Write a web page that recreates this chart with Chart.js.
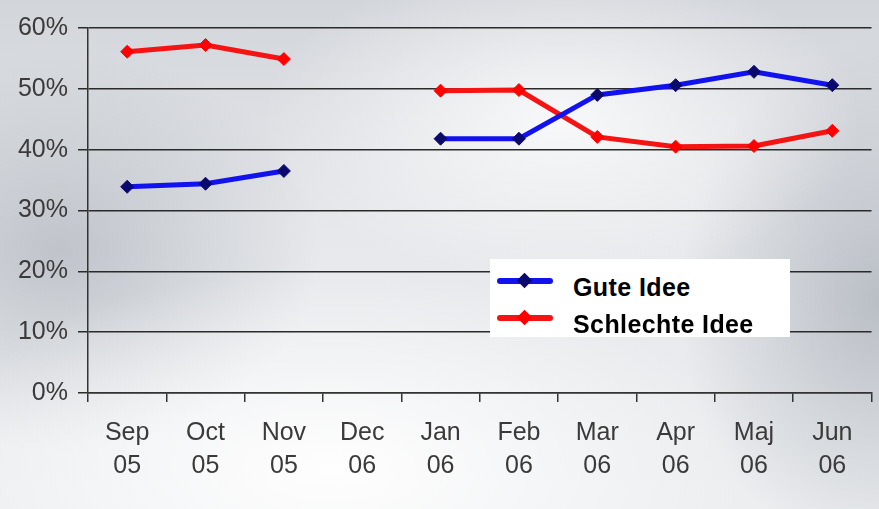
<!DOCTYPE html>
<html>
<head>
<meta charset="utf-8">
<script src="https://cdn.jsdelivr.net/npm/chart.js@4"></script>
<style>
    html, body { margin: 0; padding: 0; }
    body { width: 879px; height: 509px; overflow: hidden; }
    #wrap {
        position: relative;
        width: 879px;
        height: 509px;
        background:
            radial-gradient(ellipse 420px 200px at 330px 470px, rgba(255,255,255,0.95), rgba(255,255,255,0) 100%),
            radial-gradient(ellipse 300px 160px at 560px 120px, rgba(255,255,255,0.8), rgba(255,255,255,0) 100%),
            radial-gradient(ellipse 260px 200px at 60px 250px, rgba(175,180,188,0.7), rgba(175,180,188,0) 100%),
            radial-gradient(ellipse 200px 260px at 879px 300px, rgba(170,175,184,0.75), rgba(170,175,184,0) 100%),
            linear-gradient(180deg, #d2d5da 0%, #e6e8eb 45%, #eceef0 100%);
    }
    #legend {
        position: absolute;
        left: 490px;
        top: 259px;
        width: 300px;
        height: 78px;
        background: #ffffff;
        font-family: "Liberation Sans", Arial, sans-serif;
        font-weight: bold;
        font-size: 25px;
        letter-spacing: 0.4px;
        color: #000;
    }
    .item { position: absolute; left: 7px; height: 30px; display: flex; align-items: center; }
    .item span { position: relative; top: 6px; }
    .swatch { position: relative; width: 56px; height: 30px; margin-right: 20px; }
    .swatch .ln { position: absolute; left: 0; top: 12px; width: 56px; height: 6px; border-radius: 3px; }
    .swatch .dm { position: absolute; left: 22px; top: 9px; width: 11px; height: 11px; transform: rotate(45deg); }
</style>
</head>
<body>
<div id="wrap">
    <canvas id="myChart" width="879" height="509"></canvas>
    <div id="legend"></div>
</div>
<script>
// categories (two-line tick labels)
const months = ['Sep', 'Oct', 'Nov', 'Dec', 'Jan', 'Feb', 'Mar', 'Apr', 'Maj', 'Jun'];
const years = ['05', '05', '05', '06', '06', '06', '06', '06', '06', '06'];

// series values in percent, Dec 06 has no value
const guteIdee = [33.9, 34.4, 36.5, null, 41.8, 41.8, 49.0, 50.6, 52.8, 50.6];
const schlechteIdee = [56.1, 57.2, 54.9, null, 49.7, 49.8, 42.1, 40.5, 40.6, 43.1];

const seriesNames = ['Gute Idee', 'Schlechte Idee'];
const yTicks = [0, 10, 20, 30, 40, 50, 60];

const labels = months.map((m, i) => [m, years[i]]);
const font = "'Liberation Sans', Arial, sans-serif";

const datasets = [
    {
        label: seriesNames[0],
        data: guteIdee,
        borderColor: '#1212ee',
        backgroundColor: '#0a0a6e',
        pointBackgroundColor: '#0a0a6e',
        pointBorderColor: '#0a0a6e',
        borderWidth: 5,
        pointStyle: 'rectRot',
        pointRadius: 6.5,
        pointBorderWidth: 1,
        spanGaps: false,
        tension: 0
    },
    {
        label: seriesNames[1],
        data: schlechteIdee,
        borderColor: '#f41414',
        backgroundColor: '#ff0000',
        pointBackgroundColor: '#ff0000',
        pointBorderColor: '#ff0000',
        borderWidth: 5,
        pointStyle: 'rectRot',
        pointRadius: 6.5,
        pointBorderWidth: 1,
        spanGaps: false,
        tension: 0
    }
];

const chartInstance = new Chart(document.getElementById('myChart').getContext('2d'), {
    type: 'line',
    data: { labels, datasets },
    options: {
        responsive: false,
        animation: false,
        layout: { padding: { top: 28, right: 0, left: 0, bottom: 0 } },
        plugins: { legend: { display: false }, tooltip: { enabled: false } },
        scales: {
            x: {
                offset: true,
                grid: { offset: true, drawOnChartArea: false, drawTicks: true, tickLength: 9, color: '#333', lineWidth: 1.5 },
                border: { display: true, color: '#333', width: 1.5 },
                ticks: {
                    color: '#3a3a3a',
                    font: { family: font, size: 25, lineHeight: 1.3 },
                    padding: 15,
                    maxRotation: 0,
                    autoSkip: false
                },
                afterFit: s => { s.height = 116; }
            },
            y: {
                min: 0,
                max: 60,
                afterBuildTicks: s => { s.ticks = yTicks.map(v => ({ value: v })); },
                grid: { color: '#2a2a2a', lineWidth: 1.5, tickLength: 10 },
                border: { display: true, color: '#333', width: 1.5 },
                ticks: {
                    color: '#3a3a3a',
                    font: { family: font, size: 25 },
                    padding: 10,
                    callback: v => v + '%'
                },
                afterFit: s => { s.width = 88; }
            }
        }
    }
});

// legend in a white box inside the plot, built from the datasets
const legendEl = document.getElementById('legend');
chartInstance.data.datasets.forEach((ds, i) => {
    const item = document.createElement('div');
    item.className = 'item';
    item.style.top = (7 + i * 37) + 'px';
    item.innerHTML =
        `<div class="swatch"><div class="ln" style="background:${ds.borderColor}"></div>` +
        `<div class="dm" style="background:${ds.pointBackgroundColor}"></div></div>` +
        `<span>${ds.label}</span>`;
    legendEl.appendChild(item);
});
</script>
</body>
</html>
